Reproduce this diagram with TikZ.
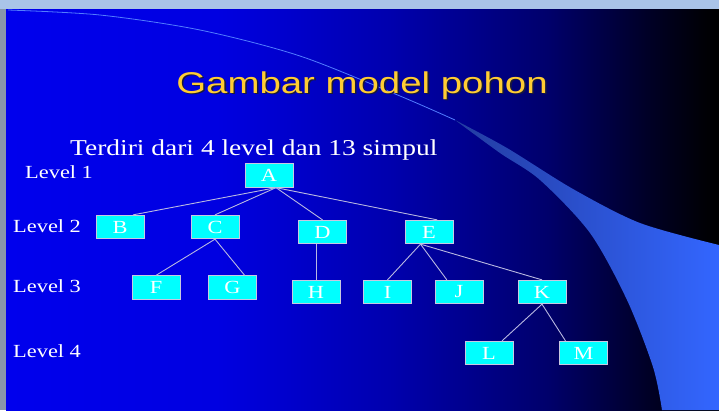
\documentclass[tikz,border=0pt]{standalone}
\usepackage{fontspec}
\setmainfont{Liberation Serif}
\newfontfamily\judulfont[FakeStretch=1.28]{Liberation Sans}
\newfontfamily\teksfont[FakeStretch=1.21]{Liberation Serif}

\definecolor{kotak}{RGB}{0,255,255}
\definecolor{bingkai}{RGB}{200,200,225}
\definecolor{garis}{RGB}{185,185,225}
\definecolor{emas}{RGB}{255,204,51}
\definecolor{bayang}{RGB}{25,25,60}
\definecolor{pita}{RGB}{51,102,255}
\definecolor{pitagelap}{RGB}{35,60,160}
\definecolor{atas}{RGB}{170,196,232}
\definecolor{kiri}{RGB}{135,150,170}

% background: bright blue fading to black towards the right
\pgfdeclarehorizontalshading{latar}{100bp}{rgb(0bp)=(0,0,0.93); rgb(25bp)=(0,0,0.93);
  rgb(40bp)=(0,0,0.88); rgb(52bp)=(0,0,0.68); rgb(63bp)=(0,0,0.42);
  rgb(70bp)=(0,0,0.15); rgb(74bp)=(0,0,0.02); rgb(75bp)=(0,0,0); rgb(100bp)=(0,0,0)}

% text with a dark drop shadow
\newcommand{\berbayang}[1]{\makebox[0pt][l]{\kern1.6pt\raisebox{-1.6pt}{\color{bayang}#1}}#1}

\begin{document}
\begin{tikzpicture}[x=1pt, y=-1pt,
    simpul/.style={draw=bingkai, line width=0.8pt, fill=kotak, minimum width=48pt,
      minimum height=23.5pt, inner sep=0pt, text=white,
      font=\teksfont\fontsize{18.5}{20}\selectfont},
    cabang/.style={draw=garis, line width=0.9pt},
    level/.style={anchor=base west, inner sep=0pt, text=white,
      font=\teksfont\fontsize{18.5}{20}\selectfont}]

	% frame and background
	\useasboundingbox (0,0) rectangle (719,410);
	\fill[atas] (0,0) rectangle (719,9);
	\fill[kiri] (0,9) rectangle (6,410);
	\shade[shading=latar] (6,9) rectangle (719,410);

	% swoosh on the right
	\shade[left color=pitagelap, middle color=pita, right color=pita]
		plot[smooth] coordinates {(455,120) (507,148) (573,189) (640,223) (719,245)}
		-- (719,410) -- (662,410)
		-- plot[smooth] coordinates {(662,410) (653,367) (627,300) (590,233) (540,180) (500,153) (455,120)}
		-- cycle;
	\draw[pita!85, line width=0.8pt] plot[smooth] coordinates {(8,10) (100,15) (200,30) (300,56) (400,96) (455,120)};

	% title
	\node[anchor=base, inner sep=0pt, text=emas, font=\judulfont\fontsize{30}{34}\selectfont]
		(judul) at (362,93.3) {\berbayang{Gambar model pohon}};

	% subtitle
	\node[level, font=\teksfont\fontsize{22.7}{26}\selectfont] (keterangan) at (70,155)
		{Terdiri dari 4 level dan 13 simpul};

	% level labels
	\foreach \t/\x/\y in {1/25/178, 2/13/232, 3/13/292, 4/13/357}
		\node[level] (level-\t) at (\x,\y) {Level \t};

	% nodes of the tree
	\foreach \n/\x/\y in {A/269/175.5, B/120/227, C/215/227, D/322.5/232, E/429/232,
		F/156/287.5, G/232.5/287.5, H/316/292, I/387.5/292, J/459/292, K/542/292,
		L/489/353, M/583.5/353}
		\node[simpul] (\n) at (\x,\y) {\n};

	% branches
	\foreach \a/\b in {A.300/B.43, A.300/C.north, A.300/D.north, A.300/E.56,
		C.south/F.north, C.south/G.45, E.235/I.north, E.235/J.135, E.235/K.north,
		K.south/L.43, K.south/M.146}
		\draw[cabang] (\a) -- (\b);
	\draw[cabang] (H.north) -- (H.north |- D.south);

\end{tikzpicture}
\end{document}
